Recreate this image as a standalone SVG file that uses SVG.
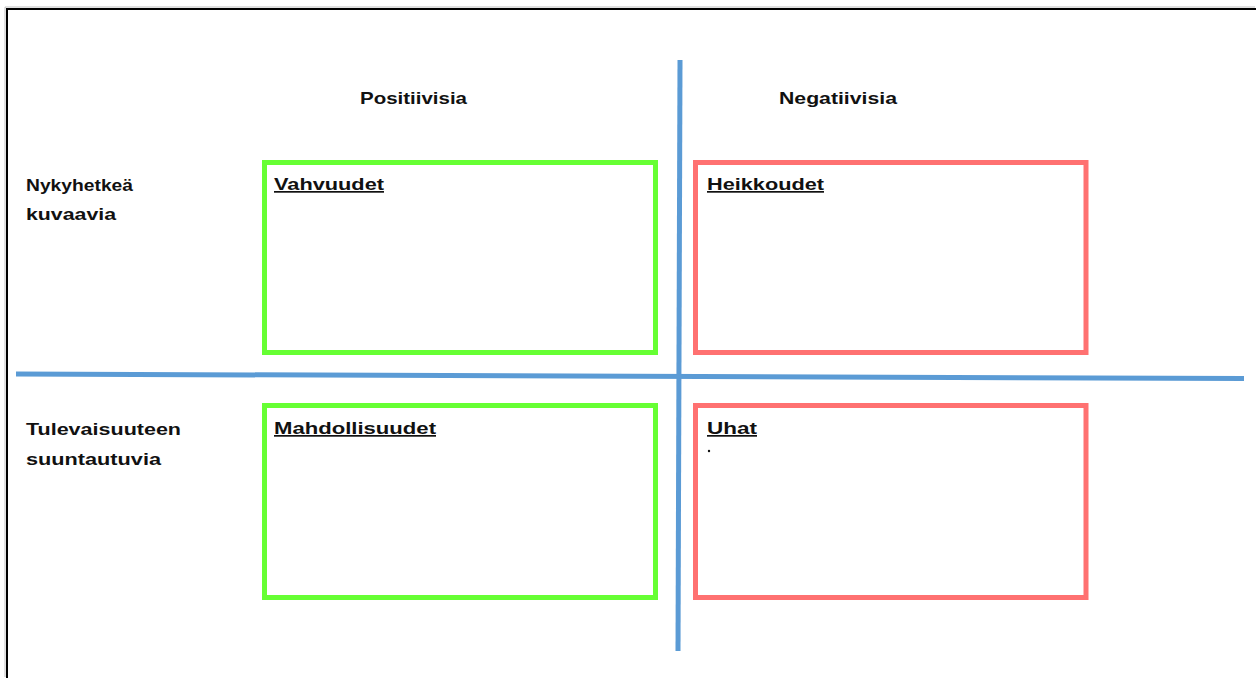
<svg xmlns="http://www.w3.org/2000/svg" width="1256" height="678" viewBox="0 0 1256 678">
<style>
text{font-family:"Liberation Sans",Arial,sans-serif;font-weight:bold;font-size:17px;fill:#111}
.u{text-decoration:underline}
.g{fill:none;stroke:#66FF33;stroke-width:5}
.r{fill:none;stroke:#FF7171;stroke-width:5}
.ax{stroke:#5B9BD5;stroke-width:5;fill:none}
</style>
<rect width="1256" height="678" fill="#fff"/>
<path d="M7,678 V9 H1256" fill="none" stroke="#000" stroke-width="2"/>
<path d="M6,678 V8 H1256" fill="none" stroke="#999" stroke-width="0.6" transform="translate(-1,-1)"/>
<g id="headers">
<text x="360" y="104" textLength="107" lengthAdjust="spacingAndGlyphs">Positiivisia</text>
<text x="779" y="104" textLength="118" lengthAdjust="spacingAndGlyphs">Negatiivisia</text>
<text x="26" y="191" textLength="107" lengthAdjust="spacingAndGlyphs">Nykyhetkeä</text>
<text x="26" y="220" textLength="90" lengthAdjust="spacingAndGlyphs">kuvaavia</text>
<text x="26" y="435" textLength="155" lengthAdjust="spacingAndGlyphs">Tulevaisuuteen</text>
<text x="26" y="465" textLength="135" lengthAdjust="spacingAndGlyphs">suuntautuvia</text>
</g>
<g id="connectors">
<line class="ax" x1="680" y1="60" x2="678" y2="651"/>
<line class="ax" x1="16" y1="374" x2="1244" y2="378.5"/>
</g>
<g id="vahvuudet">
<rect class="g" x="264.5" y="162.5" width="391" height="190"/>
<text class="u" x="274" y="190" textLength="110" lengthAdjust="spacingAndGlyphs">Vahvuudet</text>
</g>
<g id="heikkoudet">
<rect class="r" x="695.5" y="162.5" width="390.5" height="190"/>
<text class="u" x="707" y="190" textLength="117" lengthAdjust="spacingAndGlyphs">Heikkoudet</text>
</g>
<g id="mahdollisuudet">
<rect class="g" x="264.5" y="405.5" width="391" height="192"/>
<text class="u" x="274" y="434" textLength="162" lengthAdjust="spacingAndGlyphs">Mahdollisuudet</text>
</g>
<g id="uhat">
<rect class="r" x="695.5" y="405.5" width="390.5" height="192"/>
<text class="u" x="707" y="434" textLength="50" lengthAdjust="spacingAndGlyphs">Uhat</text>
<circle cx="709" cy="451" r="1.2" fill="#111"/>
</g>
</svg>
